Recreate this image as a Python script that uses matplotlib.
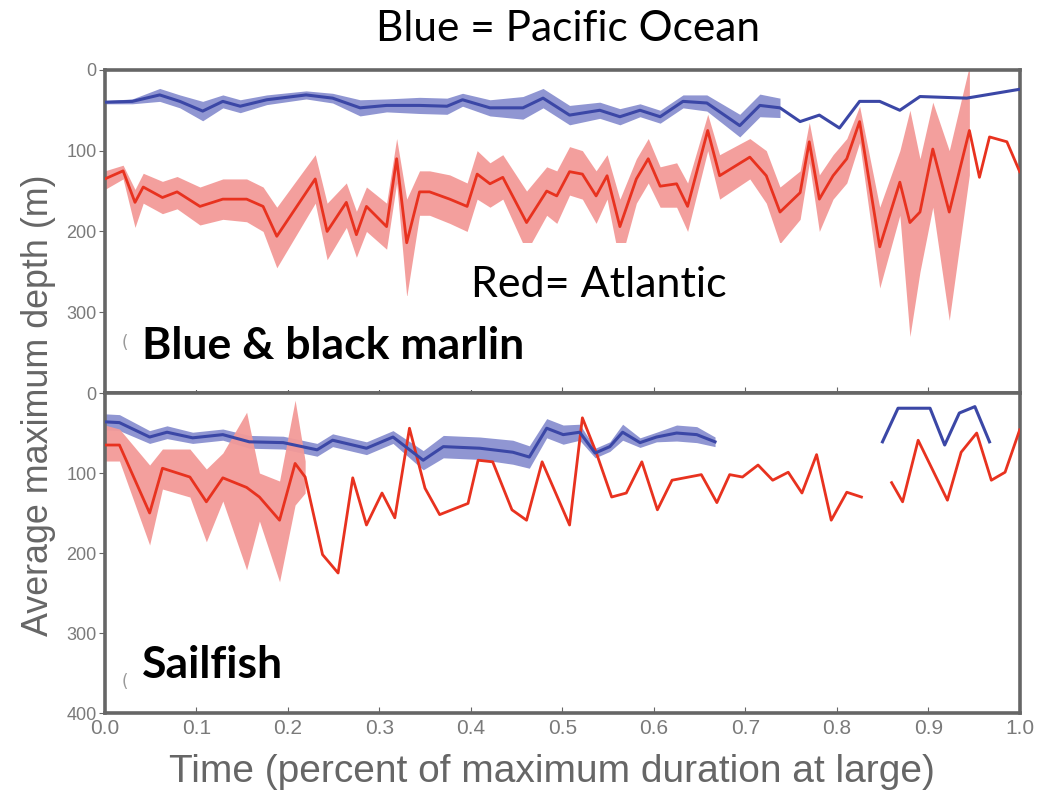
import numpy as np
import matplotlib
matplotlib.use("Agg")
import matplotlib.pyplot as plt
from matplotlib.patches import Rectangle

nan = np.nan

# ---- top panel: blue & black marlin ----
top_blue_t = [0.0, 0.03, 0.06, 0.082, 0.107, 0.129, 0.148, 0.177, 0.22, 0.249, 0.279, 0.308,
              0.344, 0.374, 0.391, 0.421, 0.457, 0.479, 0.508, 0.541, 0.563, 0.585, 0.607,
              0.632, 0.658, 0.694, 0.716, 0.738, 0.76, 0.781, 0.803, 0.825, 0.847, 0.869,
              0.891, 0.942, 1.0]
top_blue_y = [40, 39, 31, 39, 51, 39, 45, 37, 31, 35, 47, 44,
              44, 45, 37, 47, 47, 35, 56, 50, 58, 50, 58,
              39, 41, 69, 44, 47, 64, 56, 72, 39, 39, 50,
              33, 35, 24]
top_blue_hw = [2, 3, 8, 8, 12, 8, 8, 6, 5, 6, 10, 8,
               10, 10, 8, 10, 14, 12, 12, 10, 10, 8, 8,
               8, 10, 14, 14, 12, nan, nan, nan, nan, nan, nan,
               nan, nan, nan]

top_red_t = [0.0, 0.02, 0.033, 0.042, 0.063, 0.079, 0.104, 0.129, 0.155, 0.173, 0.188, 0.23,
             0.243, 0.264, 0.275, 0.286, 0.308, 0.319, 0.33, 0.344, 0.355, 0.377, 0.396,
             0.407, 0.421, 0.435, 0.461, 0.483, 0.494, 0.508, 0.522, 0.537, 0.549, 0.563,
             0.581, 0.594, 0.607, 0.625, 0.637, 0.659, 0.672, 0.705, 0.723, 0.738, 0.76,
             0.77, 0.781, 0.796, 0.811, 0.825, 0.847, 0.869, 0.88, 0.891, 0.905, 0.923,
             0.945, 0.956, 0.967, 0.986, 1.0]
top_red_y = [135, 125, 164, 145, 158, 151, 169, 160, 160, 169, 206, 135,
             200, 164, 204, 169, 194, 110, 214, 151, 151, 160, 169,
             129, 141, 133, 189, 150, 156, 126, 129, 156, 131, 194,
             135, 110, 144, 141, 169, 75, 131, 108, 131, 176, 152,
             89, 160, 131, 110, 64, 219, 139, 189, 176, 98, 176,
             75, 133, 83, 89, 126]
top_red_lo = [125, 118, 148, 128, 138, 132, 145, 135, 135, 145, 170, 105,
              165, 140, 175, 145, 165, 85, 160, 125, 125, 130, 140,
              100, 115, 105, 150, 120, 125, 95, 100, 125, 105, 160,
              110, 85, 120, 115, 140, 55, 105, 85, 100, 145, 125,
              65, 130, 105, 85, 45, 170, 100, 50, 110, 40, 100,
              -5, nan, nan, nan, nan]
top_red_hi = [148, 135, 195, 165, 178, 172, 192, 185, 188, 200, 245, 165,
              235, 195, 232, 200, 222, 140, 281, 180, 180, 190, 200,
              160, 170, 160, 225, 180, 190, 155, 160, 190, 160, 240,
              165, 140, 170, 170, 200, 100, 160, 135, 165, 215, 185,
              115, 200, 160, 140, 90, 270, 180, 330, 250, 170, 310,
              130, nan, nan, nan, nan]

# ---- bottom panel: sailfish ----
bot_blue_t = [0.0, 0.016, 0.049, 0.068, 0.096, 0.129, 0.158, 0.195, 0.232, 0.249, 0.286, 0.315,
              0.348, 0.37, 0.41, 0.446, 0.464, 0.483, 0.501, 0.519, 0.536, 0.552, 0.566,
              0.585, 0.603, 0.625, 0.647, 0.667, 0.75,
              0.85, 0.867, 0.902, 0.918, 0.934, 0.951, 0.967]
bot_blue_y = [36, 37, 55, 49, 56, 52, 61, 62, 71, 59, 69, 55,
              84, 67, 69, 74, 80, 44, 52, 49, 75, 67, 49,
              62, 55, 50, 52, 61, nan,
              61, 19, 19, 65, 25, 17, 61]
bot_blue_hw = [10, 10, 8, 8, 7, 7, 8, 8, 8, 8, 8, 8,
               12, 14, 14, 15, 14, 12, 12, 10, 6, 6, 10,
               6, 6, 10, 10, 6, nan,
               nan, nan, nan, nan, nan, nan, nan]

bot_red_t = [0.0, 0.016, 0.049, 0.063, 0.093, 0.111, 0.129, 0.155, 0.169, 0.191, 0.208, 0.219,
             0.238, 0.255, 0.271, 0.286, 0.303, 0.317, 0.333, 0.35, 0.366, 0.397, 0.408,
             0.424, 0.445, 0.461, 0.478, 0.508, 0.522, 0.537, 0.554, 0.57, 0.587, 0.604,
             0.62, 0.652, 0.669, 0.683, 0.697, 0.714, 0.73, 0.747, 0.762, 0.778, 0.794,
             0.811, 0.827, 0.845,
             0.86, 0.872, 0.889, 0.921, 0.936, 0.953, 0.969, 0.984, 1.0]
bot_red_y = [65, 65, 150, 94, 105, 136, 106, 118, 130, 159, 88, 105,
             202, 225, 106, 165, 125, 156, 44, 119, 152, 138, 84,
             86, 146, 159, 86, 165, 31, 74, 130, 125, 86, 146,
             109, 102, 137, 102, 105, 90, 109, 99, 125, 77, 159,
             124, 130, nan,
             112, 136, 59, 134, 74, 50, 109, 99, 46]
bot_red_lo = [40, 45, 90, 70, 70, 95, 75, 24, 100, 110, 9, 85] + [nan] * 45
bot_red_hi = [85, 85, 190, 120, 130, 186, 135, 221, 160, 236, 140, 125] + [nan] * 45

blue = "#3b47a6"
blue_band = "#8a90d0"
red = "#e8321f"
red_band = "#f39a98"
spine_col = "#666666"
tick_col = "#7a7a7a"

fig = plt.figure(figsize=(10.48, 7.94), dpi=100)
ax1 = fig.add_axes([0.100, 0.505, 0.873, 0.407])
ax2 = fig.add_axes([0.100, 0.102, 0.873, 0.403])

def draw_band(ax, t, lo, hi, color):
    lo = np.array(lo, dtype=float)
    hi = np.array(hi, dtype=float)
    ok = ~np.isnan(lo) & ~np.isnan(hi)
    ax.fill_between(np.array(t), np.nan_to_num(lo), np.nan_to_num(hi), where=ok,
                    color=color, linewidth=0, alpha=0.95, zorder=1)

# top
bt = np.array(top_blue_t); by = np.array(top_blue_y, float); bh = np.array(top_blue_hw, float)
draw_band(ax1, bt, by - bh, by + bh, blue_band)
draw_band(ax1, top_red_t, top_red_lo, top_red_hi, red_band)
ax1.plot(top_red_t, top_red_y, color=red, lw=2.0, zorder=3)
ax1.plot(bt, by, color=blue, lw=2.2, zorder=4)

# bottom
bt2 = np.array(bot_blue_t); by2 = np.array(bot_blue_y, float); bh2 = np.array(bot_blue_hw, float)
draw_band(ax2, bt2, by2 - bh2, by2 + bh2, blue_band)
draw_band(ax2, bot_red_t, bot_red_lo, bot_red_hi, red_band)
ax2.plot(bot_red_t, bot_red_y, color=red, lw=2.0, zorder=3)
ax2.plot(bt2, by2, color=blue, lw=2.2, zorder=4)

tick_font = ["Liberation Sans Narrow", "Liberation Sans", "DejaVu Sans"]
for ax in (ax1, ax2):
    ax.set_xlim(0, 1)
    ax.set_ylim(400, 0)
    for s in ax.spines.values():
        s.set_color(spine_col)
        s.set_linewidth(2.6)
    ax.tick_params(axis="y", direction="out", length=4, color=spine_col,
                   labelcolor=tick_col, labelsize=13, pad=2)
    ax.tick_params(axis="x", direction="in", length=4, color=spine_col,
                   labelcolor=tick_col, labelsize=15, pad=4)
    ax.set_xticks(np.arange(0, 1.01, 0.1))
    for lab in ax.get_xticklabels() + ax.get_yticklabels():
        lab.set_family(tick_font)

ax1.set_yticks([0, 100, 200, 300])
ax1.tick_params(axis="x", labelbottom=False)
ax2.set_yticks([0, 100, 200, 300, 400])
ax2.set_xticklabels(["%.1f" % v for v in np.arange(0, 1.01, 0.1)], family=tick_font)

# white boxes that hide parts of the bands behind the annotations
ax1.add_patch(Rectangle((0.355, 0.22), 0.48, 0.245, transform=ax1.transAxes,
                        facecolor="white", edgecolor="none", zorder=5))
ax1.add_patch(Rectangle((0.008, 0.01), 0.47, 0.29, transform=ax1.transAxes,
                        facecolor="white", edgecolor="none", zorder=5))

ax1.text(0.018, 0.14, "(", transform=ax1.transAxes, fontsize=12, color="#999999", zorder=6)
ax2.text(0.018, 0.08, "(", transform=ax2.transAxes, fontsize=12, color="#999999", zorder=6)

lab_font = ["Lato", "Open Sans", "DejaVu Sans"]
fig.text(0.542, 0.963, "Blue = Pacific Ocean", ha="center", va="center",
         fontsize=30.5, family=lab_font, color="black")
ax1.text(0.4, 0.335, "Red= Atlantic", transform=ax1.transAxes, ha="left", va="center",
         fontsize=31, family=lab_font, color="black", zorder=7)
ax1.text(0.041, 0.145, "Blue & black marlin", transform=ax1.transAxes, ha="left", va="center",
         fontsize=32, family=lab_font, weight="bold", color="black", zorder=7)
ax2.text(0.041, 0.15, "Sailfish", transform=ax2.transAxes, ha="left", va="center",
         fontsize=32, family=lab_font, weight="bold", color="black", zorder=7)

fig.text(0.037, 0.49, "Average maximum depth (m)", rotation=90, ha="center", va="center",
         fontsize=25.8, family=tick_font, color="#666666")
fig.text(0.527, 0.028, "Time (percent of maximum duration at large)", ha="center", va="center",
         fontsize=28, family=tick_font, color="#666666")

fig.savefig("out.png", dpi=100)
